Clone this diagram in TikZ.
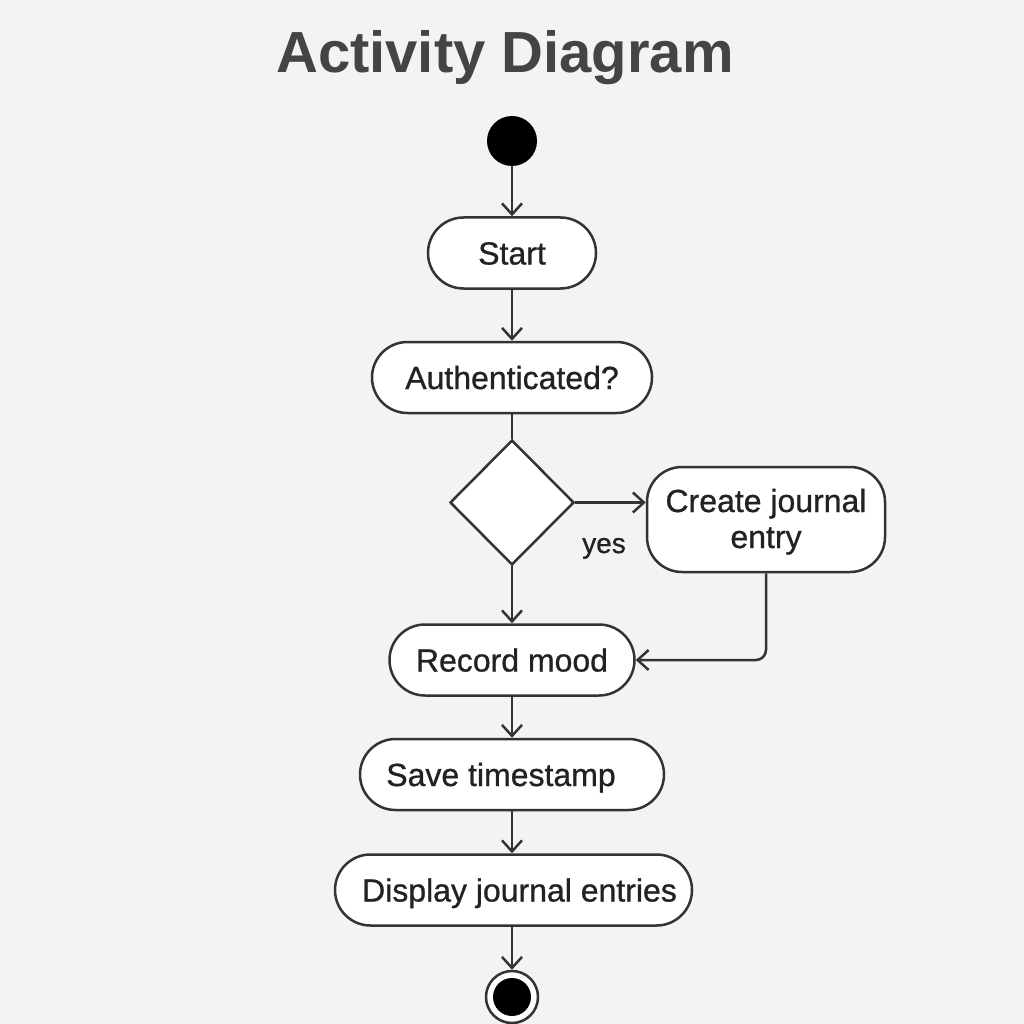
\documentclass[tikz,border=0pt]{standalone}
\usepackage{fontspec}
\setmainfont{Liberation Sans}
\newfontfamily\bodyfont{Liberation Sans}[FakeBold=0.8]
\usetikzlibrary{shapes.geometric,arrows.meta}
\definecolor{bg}{HTML}{F3F3F3}
\definecolor{lc}{HTML}{333333}
\definecolor{tc}{HTML}{222222}
\definecolor{ttl}{HTML}{444444}
\begin{document}
\begin{tikzpicture}[x=1pt,y=-1pt,
  box/.style={draw=lc, line width=2.5pt, fill=white, inner sep=0pt,
    minimum height=71pt, rounded corners=35.5pt},
  act/.style={box, text=tc, text height=23pt, text depth=0pt,
    font=\bodyfont\fontsize{32}{36}\selectfont},
  lbl/.style={anchor=base, text=tc, inner sep=0pt, font=\bodyfont\fontsize{32}{36}\selectfont},
  decision/.style={diamond, draw=lc, line width=2.5pt, fill=white, inner sep=0pt,
    minimum width=124pt, minimum height=125pt},
  flow/.style={draw=lc, line width=2.5pt, -{Straight Barb[length=11pt,width=20pt]}},
  plain/.style={draw=lc, line width=2.5pt}
]
\fill[bg] (0,0) rectangle (1024,1024);
\useasboundingbox (0,0) rectangle (1024,1024);

\node[anchor=base, text=ttl, font=\bfseries\fontsize{58}{64}\selectfont] (title) at (505,73) {Activity Diagram};

\node[circle, fill=black, minimum size=50pt, inner sep=0pt] (init) at (512,141) {};
\node[act, minimum width=168pt] (start) at (512,253) {Start};
\node[act, minimum width=280pt] (auth) at (512,377.5) {Authenticated?};
\node[decision] (dec) at (512,502.5) {};
\node[box, minimum width=238pt, minimum height=105pt, rounded corners=35pt] (create) at (766,519.5) {};
\node[lbl] (create1) at (766,512) {Create journal};
\node[lbl] (create2) at (766,548) {entry};
\node[lbl, font=\bodyfont\fontsize{28}{32}\selectfont] (yes) at (604,553) {yes};
\node[act, minimum width=245pt] (record) at (512,660) {Record mood};
\node[act, minimum width=304pt] (save) at (512,774.5) {Save timestamp\kern22pt};
\node[act, minimum width=357pt] (disp) at (513.5,890) {\kern12pt Display journal entries};
\node[circle, draw=lc, line width=2.5pt, fill=white, minimum size=52pt, inner sep=0pt] (final) at (512,997) {};
\node[circle, fill=black, minimum size=38pt, inner sep=0pt] (finalin) at (final.center) {};

\draw[flow] (init) -- (start);
\draw[flow] (start) -- (auth);
\draw[plain] (auth) -- (dec.north);
\draw[flow] (dec.east) -- (create.west |- dec.east);
\draw[flow] (dec.south) -- (record.north);
\draw[flow, rounded corners=10pt] (create.south) |- (record.east);
\draw[flow] (record) -- (save);
\draw[flow] (save) -- (save.south |- disp.north);
\draw[flow] (disp.south -| final.north) -- (final.north);
\end{tikzpicture}
\end{document}
